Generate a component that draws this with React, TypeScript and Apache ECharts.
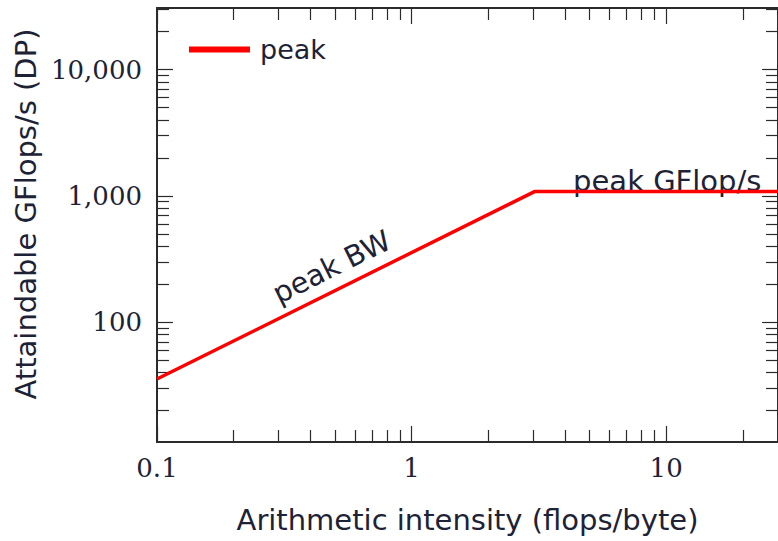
import React, { useEffect, useRef } from "react";
import * as echarts from "echarts";

// ---- data ----
const X_MIN = 0.1;
const X_MAX = 27.5;
const Y_MIN = 11.3;
const Y_MAX = 30700;

const intensity = [0.1, 3.04, 27.5];
const gflops = [35.6, 1083, 1083];

const xMajorTicks = [0.1, 1, 10];
const xMinorTicks = [0.2, 0.3, 0.4, 0.5, 0.6, 0.7, 0.8, 0.9, 2, 3, 4, 5, 6, 7, 8, 9, 20];
const yMajorTicks = [100, 1000, 10000];
const yMinorTicks = [
  20, 30, 40, 50, 60, 70, 80, 90,
  200, 300, 400, 500, 600, 700, 800, 900,
  2000, 3000, 4000, 5000, 6000, 7000, 8000, 9000,
  20000, 30000,
];

const bwLabelPos = [0.485, 275];
const peakLabelPos = [10.1, 1307];

const seriesName = "peak";
const bwText = "peak BW";
const peakText = "peak GFlop/s";
const xTitle = "Arithmetic intensity (flops/byte)";
const yTitle = "Attaindable GFlops/s (DP)";

const TEXT = "#1d2236";
const AXIS = "#2b2b2b";
const SANS = "DejaVu Sans";
const SERIF = "DejaVu Serif";

export default function App() {
  const ref = useRef<HTMLDivElement>(null);
  useEffect(() => {
    if (!ref.current) return;
    const chart = echarts.init(ref.current, undefined, { renderer: "svg" });

    const baseX = (position: string, ticks: number[], len: number, showLine: boolean, labels: boolean, extra: any = {}) => ({
      type: "log",
      logBase: 10,
      position,
      min: X_MIN,
      max: X_MAX,
      splitLine: { show: false },
      axisLine: { show: showLine, onZero: false, lineStyle: { color: AXIS, width: 2 } },
      axisTick: { show: true, inside: true, length: len, customValues: ticks, lineStyle: { color: AXIS, width: 1.2 } },
      axisLabel: labels
        ? {
            show: true,
            customValues: xMajorTicks,
            margin: 13,
            fontFamily: SERIF,
            fontSize: 26,
            color: TEXT,
            formatter: (v: number) => String(v),
          }
        : { show: false },
      ...extra,
    });

    const baseY = (position: string, ticks: number[], len: number, showLine: boolean, labels: boolean, extra: any = {}) => ({
      type: "log",
      logBase: 10,
      position,
      min: Y_MIN,
      max: Y_MAX,
      splitLine: { show: false },
      axisLine: { show: showLine, onZero: false, lineStyle: { color: AXIS, width: 2 } },
      axisTick: { show: true, inside: true, length: len, customValues: ticks, lineStyle: { color: AXIS, width: 1.2 } },
      axisLabel: labels
        ? {
            show: true,
            customValues: yMajorTicks,
            margin: 15,
            fontFamily: SERIF,
            fontSize: 26,
            color: TEXT,
            formatter: (v: number) => Math.round(v).toLocaleString("en-US"),
          }
        : { show: false },
      ...extra,
    });

    const annLabel = {
      show: true,
      position: "inside",
      fontFamily: SANS,
      fontSize: 29,
      color: TEXT,
      textBorderWidth: 0,
      textBorderColor: "transparent",
      textShadowBlur: 0,
    };

    chart.setOption({
      animation: false,
      backgroundColor: "#ffffff",
      grid: { left: 157, top: 8, right: 0, bottom: 99, containLabel: false },
      legend: {
        left: 189,
        top: 36,
        padding: 0,
        itemWidth: 61,
        itemHeight: 6,
        icon: "rect",
        data: [seriesName],
        textStyle: { fontFamily: SANS, fontSize: 27, color: TEXT, padding: [0, 0, 0, 5] },
        itemStyle: { color: "#ff0000" },
      },
      xAxis: [
        baseX("bottom", xMajorTicks, 16, true, true, {
          name: xTitle,
          nameLocation: "middle",
          nameGap: 63,
          nameTextStyle: { fontFamily: SANS, fontSize: 29, color: TEXT },
        }),
        baseX("bottom", xMinorTicks, 12, false, false),
        baseX("top", xMajorTicks, 16, true, false),
        baseX("top", xMinorTicks, 12, false, false),
      ],
      yAxis: [
        baseY("left", yMajorTicks, 16, true, true, {
          name: yTitle,
          nameLocation: "middle",
          nameGap: 89,
          nameTextStyle: { fontFamily: SANS, fontSize: 29, color: TEXT, padding: [0, 0, 0, 22] },
        }),
        baseY("left", yMinorTicks, 12, false, false),
        baseY("right", yMajorTicks, 16, true, false),
        baseY("right", yMinorTicks, 12, false, false),
      ],
      series: [
        {
          name: seriesName,
          type: "line",
          xAxisIndex: 0,
          yAxisIndex: 0,
          data: intensity.map((x, i) => [x, gflops[i]]),
          showSymbol: false,
          symbol: "none",
          lineStyle: { color: "#ff0000", width: 3.5 },
          itemStyle: { color: "#ff0000" },
        },
        {
          name: "annotations",
          type: "scatter",
          xAxisIndex: 0,
          yAxisIndex: 0,
          symbolSize: 0,
          silent: true,
          itemStyle: { color: TEXT, opacity: 1 },
          data: [
            { value: bwLabelPos, label: { ...annLabel, formatter: bwText, rotate: 26.4 } },
            { value: peakLabelPos, label: { ...annLabel, formatter: peakText } },
          ],
          label: annLabel,
        },
      ],
    });
    return () => chart.dispose();
  }, []);

  return (
    <div
      ref={ref}
      style={{ position: "fixed", left: 0, top: 0, width: 778, height: 541, background: "#fff" }}
    />
  );
}
